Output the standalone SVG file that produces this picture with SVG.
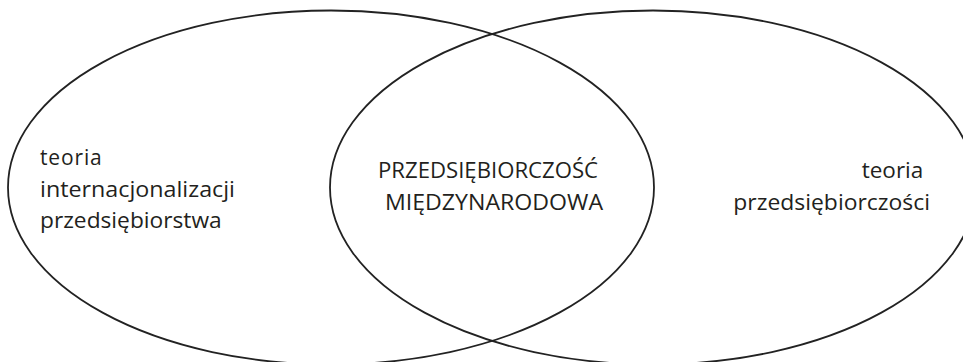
<svg xmlns="http://www.w3.org/2000/svg" width="963" height="362" viewBox="0 0 963 362">
<style>
.e{fill:none;stroke:#222;stroke-width:1.8}
.t{font-family:"Open Sans","Liberation Sans",sans-serif;font-size:21px;fill:#231f20}
</style>
<rect width="963" height="362" fill="#fff"/>
<g id="left-set">
<ellipse class="e" cx="331" cy="187.5" rx="323" ry="177"/>
<text class="t" lengthAdjust="spacingAndGlyphs"><tspan x="40" y="165" textLength="61.7">teoria</tspan></text>
<text class="t" x="40" y="196.7" textLength="195" lengthAdjust="spacingAndGlyphs">internacjonalizacji</text>
<text class="t" x="40" y="228.3" textLength="181.7" lengthAdjust="spacingAndGlyphs">przedsiębiorstwa</text>
</g>
<g id="right-set">
<ellipse class="e" cx="653" cy="187.5" rx="323" ry="177"/>
<text class="t" x="861.7" y="178.3" textLength="61.6" lengthAdjust="spacingAndGlyphs">teoria</text>
<text class="t" x="733.3" y="210" textLength="196.7" lengthAdjust="spacingAndGlyphs">przedsiębiorczości</text>
</g>
<g id="intersection">
<text class="t" x="378" y="178.3" textLength="220" lengthAdjust="spacingAndGlyphs">PRZEDSIĘBIORCZOŚĆ</text>
<text class="t" x="385" y="210" textLength="218" lengthAdjust="spacingAndGlyphs">MIĘDZYNARODOWA</text>
</g>
<g id="connectors"/>
</svg>
